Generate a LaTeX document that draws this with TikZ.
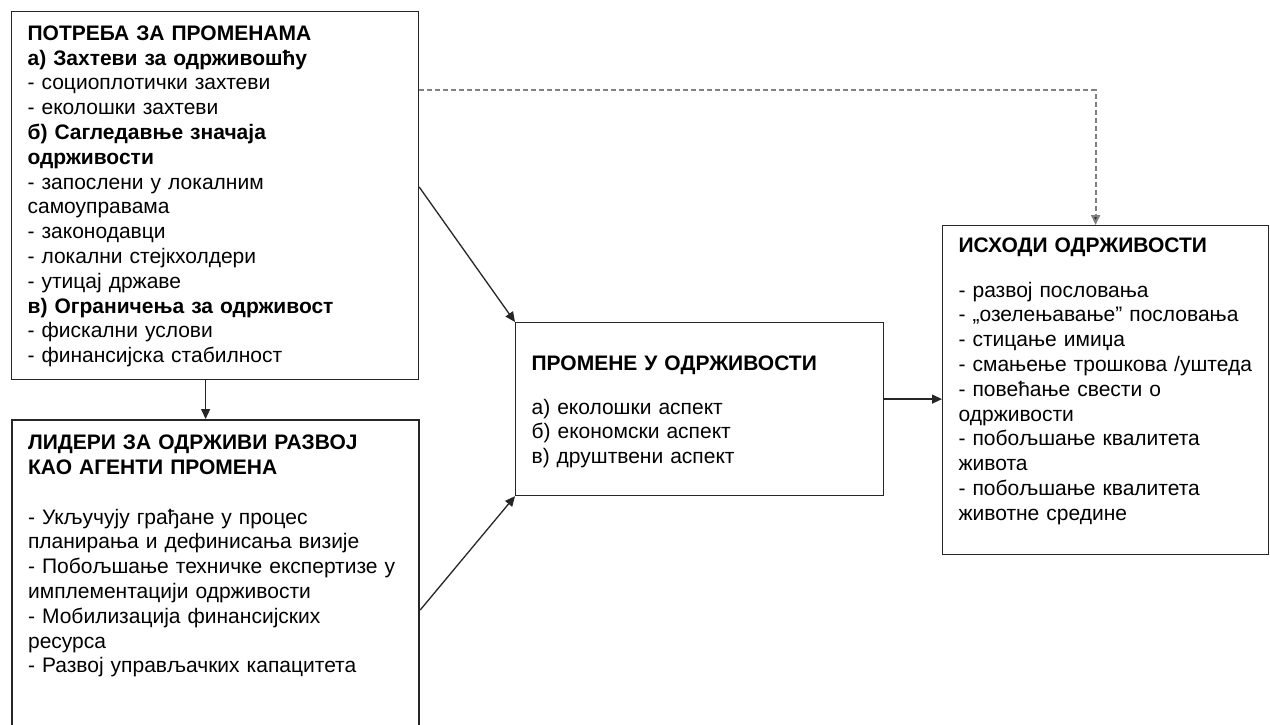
\documentclass[tikz,border=0pt]{standalone}
\usepackage{fontspec}
\setmainfont{Liberation Sans}
\usepackage{tikz}
\usetikzlibrary{arrows.meta}

\tikzset{
    box/.style={draw=black!85, line width=1.2pt, anchor=north west, align=left,
        inner xsep=16pt, inner ysep=12pt, font=\fontsize{21}{24.8}\selectfont},
    thickbox/.style={box, line width=2.2pt, inner ysep=9pt},
    link/.style={draw=black!85, line width=1.3pt, ->},
}

\begin{document}
\begin{tikzpicture}[x=1pt, y=-1pt, >={Triangle[length=10pt,width=9pt]}]
    \useasboundingbox[fill=white] (0,0) rectangle (1270,725);

    % Boxes
    \node[box, text width=375pt, minimum height=368pt] (need) at (11,11) {\vbox to 344pt{%
        \vspace*{2pt}\textbf{ПОТРЕБА ЗА ПРОМЕНАМА}\\
        \textbf{а) Захтеви за одрживошћу}\\
        - социоплотички захтеви\\
        - еколошки захтеви\\
        \textbf{б) Сагледавње значаја}\\
        \textbf{одрживости}\\
        - запослени у локалним\\
        самоуправама\\
        - законодавци\\
        - локални стејкхолдери\\
        - утицај државе\\
        \textbf{в) Ограничења за одрживост}\\
        - фискални услови\\
        - финансијска стабилност\vfil}};

    \node[thickbox, text width=375pt, minimum height=330pt] (leaders) at (11,419) {\vbox to 300pt{%
        \textbf{ЛИДЕРИ ЗА ОДРЖИВИ РАЗВОЈ}\\
        \textbf{КАО АГЕНТИ ПРОМЕНА}\\[24.8pt]
        - Укључују грађане у процес\\
        планирања и дефинисања визије\\
        - Побољшање техничке експертизе у\\
        имплементацији одрживости\\
        - Мобилизација финансијских\\
        ресурса\\
        - Развој управљачких капацитета\vfil}};

    \node[box, text width=336pt, minimum height=173pt] (change) at (515,322) {\vbox to 149pt{%
        \vspace*{21pt}\textbf{ПРОМЕНЕ У ОДРЖИВОСТИ}\\[19pt]
        а) еколошки аспект\\
        б) економски аспект\\
        в) друштвени аспект\vfil}};

    \node[box, text width=294pt, minimum height=329pt] (outcome) at (942,225) {\vbox to 305pt{%
        \textbf{ИСХОДИ ОДРЖИВОСТИ}\\[20pt]
        - развој пословања\\
        - „озелењавање" пословања\\
        - стицање имиџа\\
        - смањење трошкова /уштеда\\
        - повећање свести о\\
        одрживости\\
        - побољшање квалитета\\
        живота\\
        - побољшање квалитета\\
        животне средине\vfil}};

    % Connectors
    \draw[link] ([xshift=-9.5pt]need.south) -- ([xshift=-9.5pt]need.south |- leaders.north);
    \draw[link] ([yshift=-176pt]need.north east) -- (change.north west);
    \draw[link] ([yshift=-191pt]leaders.north east) -- (change.south west);
    \draw[link] ([yshift=10pt]change.east) -- ([yshift=10pt]change.east -| outcome.west);
    \draw[link, draw=black!50, line width=2pt, dash pattern=on 5pt off 3pt, -{Triangle[length=10pt,width=9pt,fill=black!85]}]
        ([yshift=-79pt]need.north east) -| ([xshift=-10pt]outcome.north);
\end{tikzpicture}
\end{document}
